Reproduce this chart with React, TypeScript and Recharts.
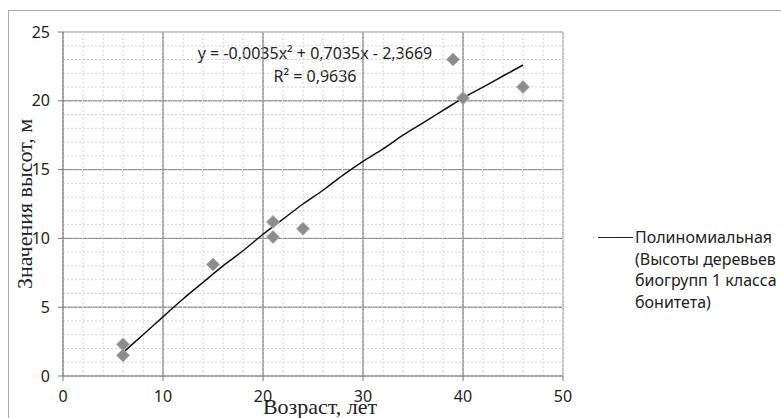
import React from "react";
import {
  ComposedChart,
  Scatter,
  Line,
  XAxis,
  YAxis,
  CartesianGrid,
  ReferenceLine,
  Label,
  Customized,
} from "recharts";

// measured heights of tree biogroups (age, height)
const ages = [6, 6, 15, 21, 21, 24, 39, 40, 46];
const heights = [2.3, 1.5, 8.1, 11.2, 10.1, 10.7, 23.0, 20.2, 21.0];

// polynomial trend line
const trendAges = [6, 8, 10, 12, 14, 16, 18, 20, 22, 24, 26, 28, 30, 32, 34, 36, 38, 40, 42, 44, 46];
const trendHeights = [1.7, 3.0, 4.3, 5.6, 6.8, 8.0, 9.1, 10.3, 11.4, 12.5, 13.5, 14.6, 15.6, 16.5, 17.5, 18.4, 19.3, 20.2, 21.0, 21.8, 22.6];

const xTicks = [0, 10, 20, 30, 40, 50];
const yTicks = [0, 5, 10, 15, 20, 25];
const xMinor = [2, 4, 6, 8, 12, 14, 16, 18, 22, 24, 26, 28, 32, 34, 36, 38, 42, 44, 46, 48];
const yMinor = [1, 2, 3, 4, 6, 7, 8, 9, 11, 12, 13, 14, 16, 17, 18, 19, 21, 22, 23, 24];

const equation = "y = -0,0035x² + 0,7035x - 2,3669";
const rSquared = "R² = 0,9636";
const legendLines = ["Полиномиальная", "(Высоты деревьев", "биогрупп 1 класса", "бонитета)"];

const points = ages.map((x, i) => ({ x, y: heights[i] }));
const trend = trendAges.map((x, i) => ({ x, y: trendHeights[i] }));

const SANS = "'Noto Sans', 'Open Sans', sans-serif";
const SERIF = "'Liberation Serif', 'DejaVu Serif', serif";

const tickStyle = { fontFamily: SANS, fontSize: 16, fill: "#222" };

const Diamond = (props: any) => {
  const { cx, cy } = props;
  const r = 6.5;
  return (
    <polygon
      points={`${cx},${cy - r} ${cx + r},${cy} ${cx},${cy + r} ${cx - r},${cy}`}
      fill="#8c8c8c"
      stroke="#b0b0b0"
      strokeWidth={1}
    />
  );
};

const LegendBox = () => (
  <div
    style={{
      position: "absolute",
      left: 598,
      top: 227,
      fontFamily: SANS,
      fontSize: 16,
      color: "#222",
      lineHeight: "21.5px",
      whiteSpace: "nowrap",
    }}
  >
    {legendLines.map((line, i) => (
      <div key={i} style={{ display: "flex", alignItems: "center" }}>
        <span
          style={{
            display: "inline-block",
            width: 35,
            height: 0,
            borderTop: i === 0 ? "1.5px solid #222" : "none",
            marginRight: 2,
          }}
        />
        <span>{line}</span>
      </div>
    ))}
  </div>
);

const EquationText = () => (
  <g fontFamily={SANS} fontSize={16} fill="#222">
    <text x={315} y={59} textAnchor="middle">
      {equation}
    </text>
    <text x={315} y={82} textAnchor="middle">
      {rSquared}
    </text>
  </g>
);

export default function App() {
  return (
    <div style={{ position: "absolute", left: 0, top: 0, width: 781, height: 418, background: "#fff", overflow: "hidden" }}>
      <div
        style={{
          position: "absolute",
          left: 8,
          top: 10,
          width: 790,
          height: 430,
          borderLeft: "1px solid #aaa",
          borderTop: "1px solid #aaa",
        }}
      />
      <ComposedChart
        width={781}
        height={418}
        margin={{ top: 32, right: 218, left: 8, bottom: 12 }}
        style={{ position: "absolute", left: 0, top: 0 }}
      >
        <CartesianGrid stroke="#999" strokeDasharray="3 1" />
        {xMinor.map((v) => (
          <ReferenceLine key={`vx${v}`} x={v} stroke="#d4d4d4" strokeDasharray="2 2" />
        ))}
        {yMinor.map((v) => (
          <ReferenceLine key={`hy${v}`} y={v} stroke="#d4d4d4" strokeDasharray="2 2" />
        ))}
        {xTicks.slice(1).map((v) => (
          <ReferenceLine key={`mx${v}`} x={v} stroke={v === 50 ? "#bbb" : "#8a8a8a"} />
        ))}
        {yTicks.slice(1).map((v) => (
          <ReferenceLine key={`my${v}`} y={v} stroke={v === 25 ? "#bbb" : "#8a8a8a"} strokeDasharray={v === 25 ? undefined : "4 1"} />
        ))}
        <XAxis
          dataKey="x"
          type="number"
          domain={[0, 50]}
          ticks={xTicks}
          height={30}
          tick={tickStyle}
          tickSize={5}
          tickMargin={10}
          stroke="#777"
          allowDataOverflow
        >
          <Label
            content={() => (
              <text x={320} y={414} textAnchor="middle" fontFamily={SERIF} fontSize={22} fill="#222">
                Возраст, лет
              </text>
            )}
          />
        </XAxis>
        <YAxis
          type="number"
          domain={[0, 25]}
          ticks={yTicks}
          width={55}
          tick={tickStyle}
          tickSize={5}
          tickMargin={8}
          stroke="#777"
          allowDataOverflow
        >
          <Label
            content={() => (
              <text
                x={32}
                y={204}
                transform="rotate(-90 32 204)"
                textAnchor="middle"
                fontFamily={SERIF}
                fontSize={22}
                fill="#222"
              >
                Значения высот, м
              </text>
            )}
          />
        </YAxis>
        <Line
          data={trend}
          dataKey="y"
          type="monotone"
          stroke="#111"
          strokeWidth={1.5}
          dot={false}
          activeDot={false}
          isAnimationActive={false}
        />
        <Scatter data={points} dataKey="y" shape={Diamond} isAnimationActive={false} />
        <Customized component={EquationText} />
      </ComposedChart>
      <LegendBox />
    </div>
  );
}
